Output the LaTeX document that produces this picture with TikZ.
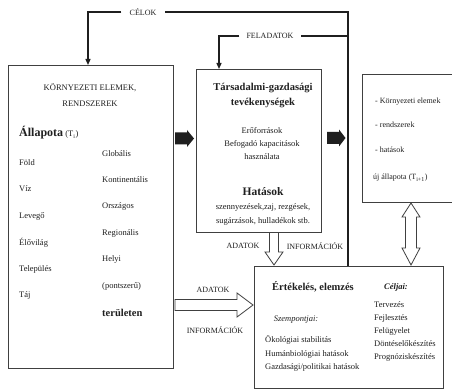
\documentclass[tikz,border=0pt]{standalone}
\usepackage{fontspec}
\setmainfont{Liberation Serif}
\usetikzlibrary{arrows.meta}
\definecolor{ink}{gray}{0.12}
\definecolor{edge}{gray}{0.25}
\begin{document}
\begin{tikzpicture}[x=1pt,y=-1pt,
  box/.style={draw=edge, line width=0.9pt, inner sep=0pt, anchor=north west},
  conn/.style={draw=ink, line width=1.3pt},
  tip/.style={-{Triangle[length=6pt,width=5pt]}},
  hollow/.style={draw=edge, line width=0.8pt, fill=white},
  solidarrow/.style={fill=ink},
  tx/.style={font=\fontsize{8.5}{13}\selectfont, inner sep=0pt, text=ink},
  txr/.style={font=\fontsize{8}{10}\selectfont, inner sep=0pt, text=ink},
  lab/.style={font=\fontsize{8}{10}\selectfont, inner xsep=7pt, inner ysep=0pt, text=ink},
  hd/.style={font=\fontsize{10.5}{15}\selectfont\bfseries, inner sep=0pt, text=ink}
]
\useasboundingbox (0,0) rectangle (452,390);
\fill[white] (0,0) rectangle (452,390);

% boxes
\node[box, minimum width=165pt, minimum height=303pt] (env) at (8,65) {};
\node[box, minimum width=125pt, minimum height=163pt] (mid) at (196,69) {};
\node[box, minimum width=91pt, minimum height=128pt] (res) at (362,74) {};
\node[box, minimum width=189pt, minimum height=122pt] (eval) at (254,266) {};

% CÉLOK / FELADATOK connectors
\node[lab, inner xsep=8pt] (celok) at (143,12) {CÉLOK};
\node[lab] (feladatok) at (270,36) {FELADATOK};
\coordinate (vx) at (348,12);
\coordinate (cx) at (88,12);
\coordinate (fx) at (219,36);
\draw[conn] (eval.north -| vx) -- (vx) -- (celok.east);
\draw[conn,tip] (celok.west) -| (env.north -| cx);
\draw[conn] (vx |- feladatok.east) -- (feladatok.east);
\draw[conn,tip] (feladatok.west) -| (mid.north -| fx);

% solid arrows
\fill[solidarrow] (175,132.5) -- (187,132.5) -- (187,130) -- (194,138.5) -- (187,147) -- (187,144.5) -- (175,144.5) -- cycle;
\fill[solidarrow] (327,132) -- (339,132) -- (339,129.5) -- (345.5,138) -- (339,146.5) -- (339,144) -- (327,144) -- cycle;

% hollow arrows
\draw[hollow] (175,299.5) -- (237,299.5) -- (237,293) -- (253,305) -- (237,317) -- (237,310.5) -- (175,310.5) -- cycle;
\draw[hollow] (269.5,232.5) -- (278.5,232.5) -- (278.5,252) -- (283,252) -- (274,265) -- (265,252) -- (269.5,252) -- cycle;
\draw[hollow] (411,203) -- (420,217) -- (416.5,217) -- (416.5,248) -- (420,248) -- (411,265) -- (402,248) -- (405.5,248) -- (405.5,217) -- (402,217) -- cycle;

% arrow labels
\node[lab, inner sep=0pt] (ad1) at (243,246) {ADATOK};
\node[lab, inner sep=0pt] (inf1) at (315,246) {INFORMÁCIÓK};
\node[lab, inner sep=0pt] (ad2) at (213,290) {ADATOK};
\node[lab, inner sep=0pt] (inf2) at (215,330) {INFORMÁCIÓK};

% left box content
\node[tx, align=center, font=\fontsize{8.5}{16}\selectfont] (envtitle) at (90,95) {KÖRNYEZETI ELEMEK,\\RENDSZEREK};
\node[tx, anchor=west] (allapot) at (19,133) {{\fontsize{12}{14}\selectfont\bfseries Állapota} (T\textsubscript{i})};
\node[tx, anchor=west] (f1) at (19,163) {Föld};
\node[tx, anchor=west] (f2) at (19,189) {Víz};
\node[tx, anchor=west] (f3) at (19,216) {Levegő};
\node[tx, anchor=west] (f4) at (19,243) {Élővilág};
\node[tx, anchor=west] (f5) at (19,269) {Település};
\node[tx, anchor=west] (f6) at (19,295) {Táj};
\node[tx, anchor=west] (g1) at (102,154) {Globális};
\node[tx, anchor=west] (g2) at (102,180) {Kontinentális};
\node[tx, anchor=west] (g3) at (102,206) {Országos};
\node[tx, anchor=west] (g4) at (102,233) {Regionális};
\node[tx, anchor=west] (g5) at (102,259) {Helyi};
\node[tx, anchor=west] (g6) at (102,286) {(pontszerű)};
\node[hd, anchor=west] (g7) at (102,313) {területen};

% middle box content
\node[hd, align=center] (midtitle) at (263,95.5) {Társadalmi-gazdasági\\tevékenységek};
\node[tx, align=center] (midres) at (262,143.5) {Erőforrások\\Befogadó kapacitások\\használata};
\node[hd, font=\fontsize{11.5}{14}\selectfont\bfseries] (hatasok) at (263,192) {Hatások};
\node[tx, align=center, font=\fontsize{8.5}{14}\selectfont] (hatlist) at (263,214) {szennyezések,zaj, rezgések,\\sugárzások, hulladékok stb.};

% right box content
\node[txr, anchor=west] (r1) at (375,102) {- Környezeti elemek};
\node[txr, anchor=west] (r2) at (375,125) {- rendszerek};
\node[txr, anchor=west] (r3) at (375,150) {- hatások};
\node[txr, anchor=west] (r4) at (373,178) {új állapota (T\textsubscript{i+1})};

% evaluation box content
\node[hd] (evtitle) at (313,287) {Értékelés, elemzés};
\node[tx, font=\fontsize{8.5}{10}\selectfont\bfseries\itshape] (celjai) at (396,287) {Céljai:};
\node[tx, font=\fontsize{8.5}{10}\selectfont\itshape] (szemp) at (296,320) {Szempontjai:};
\node[tx, align=left, anchor=west, font=\fontsize{8.5}{13.5}\selectfont] (szlist) at (265,353.5) {Ökológiai stabilitás\\Humánbiológiai hatások\\Gazdasági/politikai hatások};
\node[tx, align=left, anchor=west] (cellist) at (374,331) {Tervezés\\Fejlesztés\\Felügyelet\\Döntéselőkészítés\\Prognóziskészítés};
\end{tikzpicture}
\end{document}
